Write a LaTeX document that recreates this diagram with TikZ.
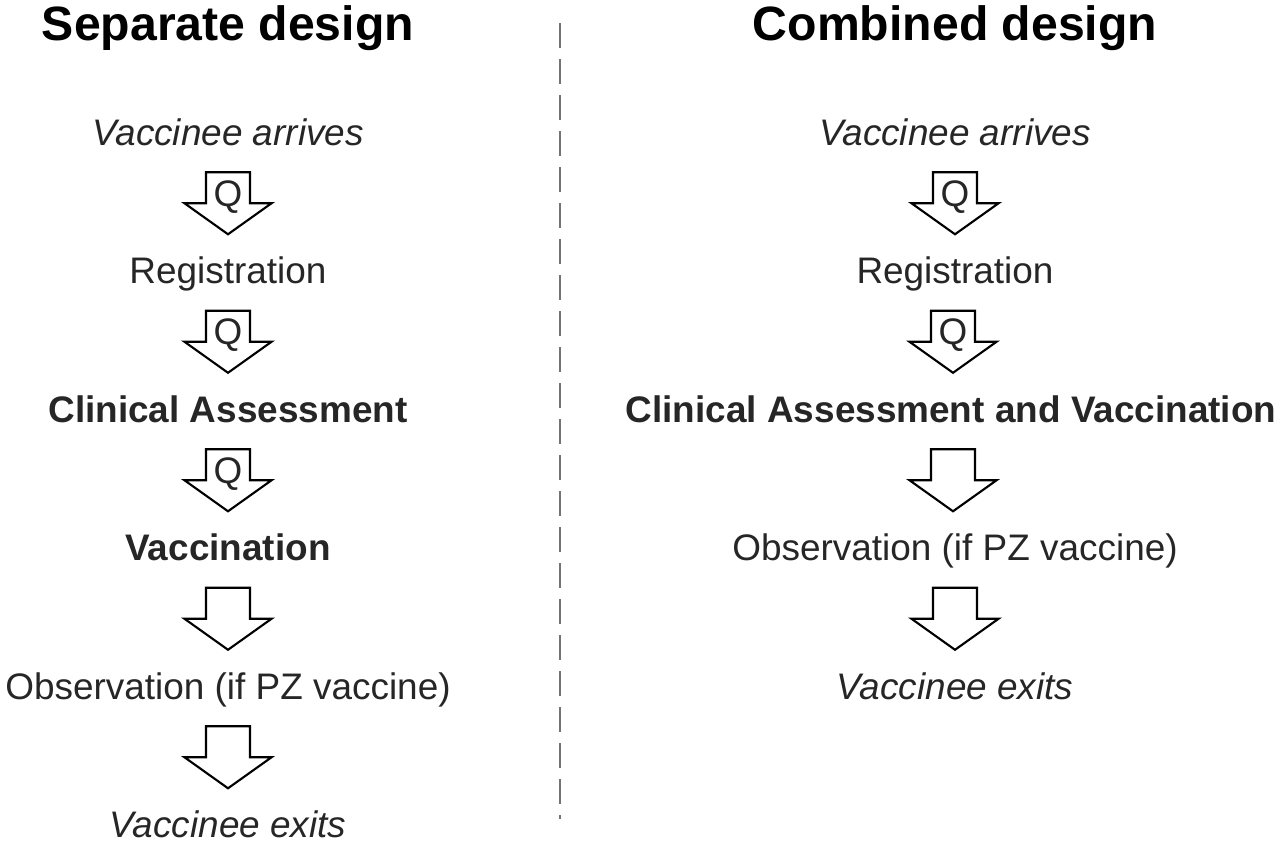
\documentclass[tikz,border=0pt]{standalone}
\usepackage{fontspec}
\setmainfont{Liberation Sans}
\usetikzlibrary{calc}
\tikzset{title/.style={font=\fontsize{13.7}{16}\selectfont\bfseries, anchor=base, inner sep=0pt},
  stage/.style={font=\fontsize{10.5}{12}\selectfont, text=black!85, anchor=base, inner sep=0pt},
  blockarrow/.style={draw=black, fill=white, line width=0.6pt, line join=miter},
  divider/.style={draw=black!55, line width=0.55pt, dash pattern=on 0.25cm off 0.11cm}}
% block arrow half way between two stages, centre kept as coordinate #3
\newcommand{\flowarrow}[3]{%
  \coordinate (#3) at ($(#1.base)!0.5!(#2.base)+(0,-11)$);
  \draw[blockarrow, shift={(#3)}] (-22,-31) -- (22,-31) -- (22,0) -- (43.5,0)
    -- (0,31) -- (-43.5,0) -- (-22,0) -- cycle;}

\begin{document}
\begin{tikzpicture}[x=0.01cm, y=-0.01cm]
		\useasboundingbox (0,0) rectangle (1280,847);
		% separate design
		\node[title] (stitle) at (228,40) {Separate design};
		\node[stage] (sarrive) at (228,145) {\itshape Vaccinee arrives};
		\node[stage] (sreg) at (228,283.5) {Registration};
		\node[stage] (sclin) at (228,422) {\bfseries Clinical Assessment};
		\node[stage] (svacc) at (228,560.5) {\bfseries Vaccination};
		\node[stage] (sobs) at (228,699) {Observation (if PZ vaccine)};
		\node[stage] (sexit) at (228,837.5) {\itshape Vaccinee exits};
		\flowarrow{sarrive}{sreg}{sa1}
		\flowarrow{sreg}{sclin}{sa2}
		\flowarrow{sclin}{svacc}{sa3}
		\flowarrow{svacc}{sobs}{sa4}
		\flowarrow{sobs}{sexit}{sa5}
		\node[stage] (sq1) at ($(sa1)+(0,3)$) {Q};
		\node[stage] (sq2) at ($(sa2)+(0,3)$) {Q};
		\node[stage] (sq3) at ($(sa3)+(0,3)$) {Q};
		% divider
		\draw[divider] (560,23) -- (560,819);
		% combined design
		\node[title] (ctitle) at (955,40) {Combined design};
		\node[stage] (carrive) at (955,145) {\itshape Vaccinee arrives};
		\node[stage] (creg) at (955,283.5) {Registration};
		\node[stage] (cclin) at (951,422) {\bfseries Clinical Assessment and Vaccination};
		\node[stage] (cobs) at (955,560.5) {Observation (if PZ vaccine)};
		\node[stage] (cexit) at (955,699) {\itshape Vaccinee exits};
		\flowarrow{carrive}{creg}{ca1}
		\flowarrow{creg}{cclin}{ca2}
		\flowarrow{cclin}{cobs}{ca3}
		\flowarrow{cobs}{cexit}{ca4}
		\node[stage] (cq1) at ($(ca1)+(0,3)$) {Q};
		\node[stage] (cq2) at ($(ca2)+(0,3)$) {Q};
\end{tikzpicture}
\end{document}
